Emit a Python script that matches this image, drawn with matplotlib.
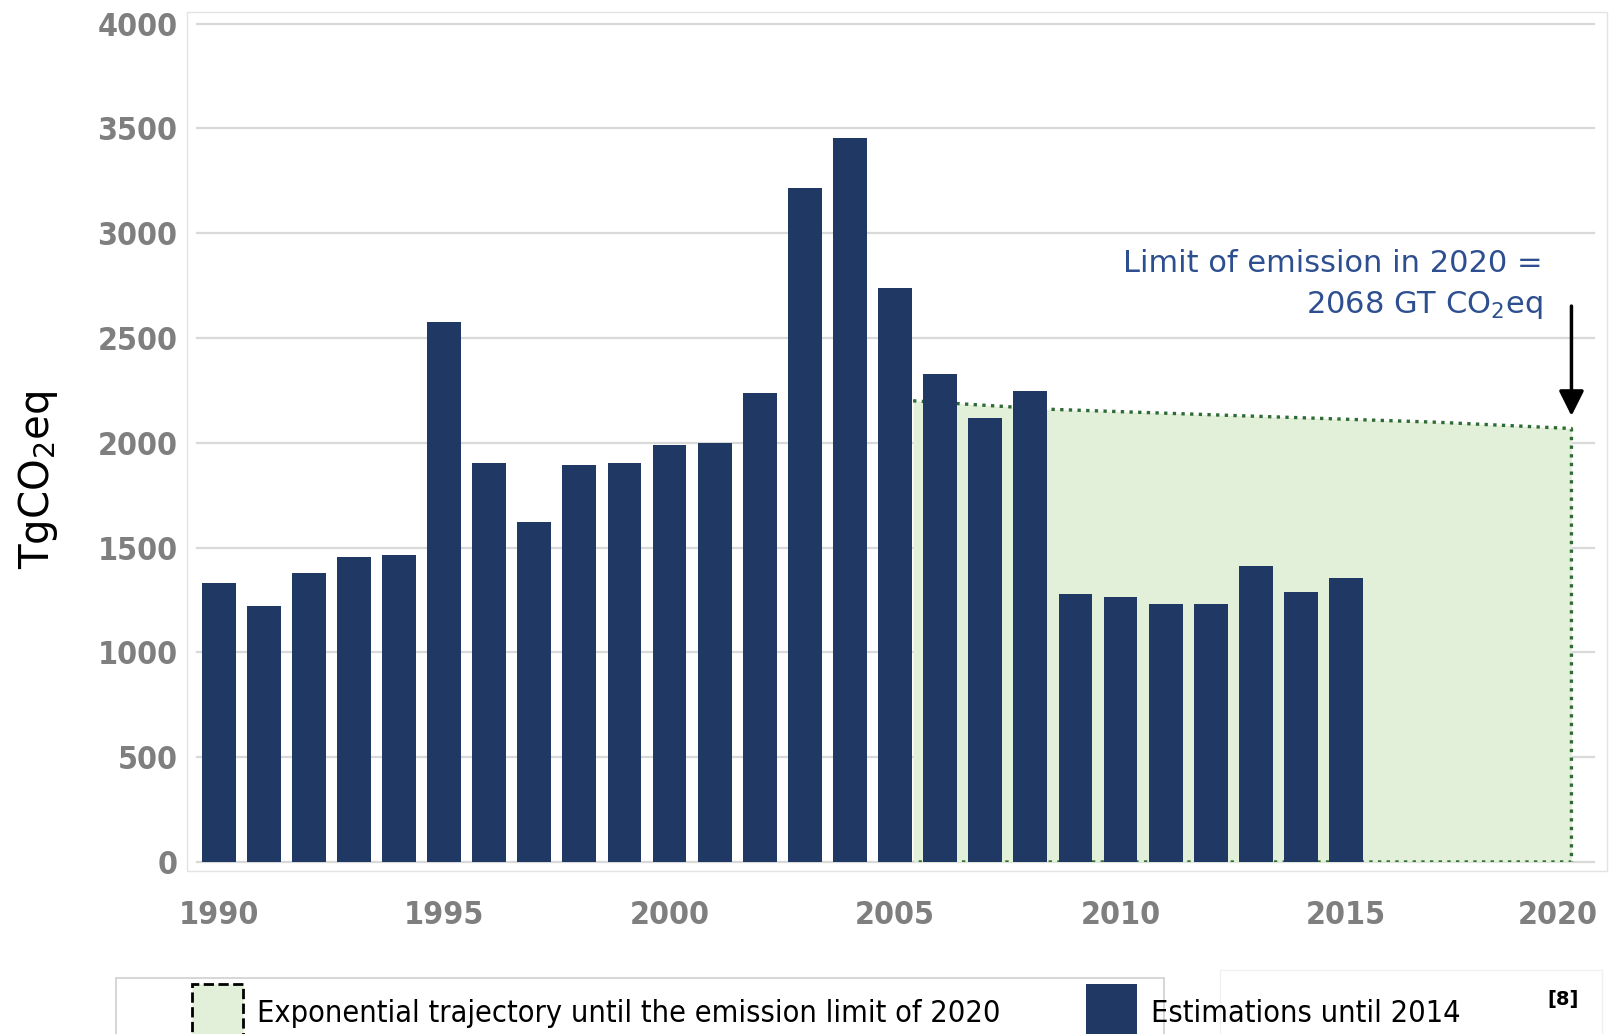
import matplotlib
matplotlib.use('Agg')
import matplotlib.pyplot as plt
import matplotlib.transforms as mtransforms
from matplotlib.patches import Rectangle

# data
years = list(range(1990, 2016))
emissions = [1333, 1221, 1377, 1456, 1466, 2574, 1902, 1623, 1892, 1902,
             1990, 2000, 2235, 3216, 3456, 2740, 2328, 2118, 2245, 1279,
             1265, 1230, 1230, 1412, 1289, 1353]
traj_years = [2005.4, 2008.4, 2012.5, 2017, 2020]
traj_values = [2200, 2160, 2130, 2098, 2068]
limit_year = 2020
limit_value = 2068
ytick_vals = [0, 500, 1000, 1500, 2000, 2500, 3000, 3500, 4000]
xtick_years = [1990, 1995, 2000, 2005, 2010, 2015, 2020]

NAVY = '#203864'
GREEN_FILL = '#e2efd9'
GREEN_LINE = '#2f6b34'
GRAY = '#7f7f7f'
BLUE_TXT = '#2e4f8f'

W, H = 1611, 1034
fig = plt.figure(figsize=(W / 100, H / 100), dpi=100)


def fx(px):
    return px / W


def fy(py):
    return 1 - py / H


# light frame round the plot
fig.patches.append(Rectangle((fx(187), fy(871)), fx(1607) - fx(187), fy(12) - fy(871),
                             transform=fig.transFigure, fill=False,
                             edgecolor='#e3e3e3', lw=1))

ax = fig.add_axes([fx(197), fy(862), fx(1594) - fx(197), fy(23.5) - fy(862)])
ax.set_xlim(1989.52, 2020.5)
ax.set_ylim(0, 4000)
for s in ax.spines.values():
    s.set_visible(False)
ax.patch.set_alpha(0)

ax.set_yticks(ytick_vals)
ax.set_yticklabels([str(v) for v in ytick_vals], fontstretch='condensed',
                   fontweight='bold', fontsize=23, color=GRAY)
ax.set_xticks(xtick_years)
ax.set_xticklabels([str(v) for v in xtick_years], fontstretch='condensed',
                   fontweight='bold', fontsize=23, color=GRAY)
ax.tick_params(axis='y', length=0, pad=14)
ax.tick_params(axis='x', length=0, pad=27)
# last year label sits a little to the left in the reference
last = ax.get_xticklabels()[-1]
last.set_transform(last.get_transform() +
                   mtransforms.ScaledTranslation(-14 / 100, 0, fig.dpi_scale_trans))
ax.yaxis.grid(True, color='#d9d9d9', lw=1.6, clip_on=False)
ax.set_axisbelow(True)

# trajectory area up to the 2020 limit
ax.fill_between(traj_years, traj_values, 0, color=GREEN_FILL, lw=0, zorder=1)
ax.plot(traj_years + [traj_years[-1], traj_years[0]], traj_values + [0, 0],
        linestyle=(0, (1, 1.6)), color=GREEN_LINE, lw=2.4, zorder=2)

# estimations
ax.bar(years, emissions, width=0.75, color=NAVY, zorder=3)

# arrow to the limit
ax.annotate('', xy=(limit_year, limit_value + 60), xytext=(limit_year, 2652),
            arrowprops=dict(arrowstyle='-|>', color='black', lw=2.5,
                            mutation_scale=38, shrinkA=0, shrinkB=0))
fig.text(fx(1543), fy(263), 'Limit of emission in %d =' % limit_year,
         ha='right', va='center', fontsize=22, color=BLUE_TXT)
fig.text(fx(1543), fy(305), '%d GT CO$_2$eq' % limit_value,
         ha='right', va='center', fontsize=22, color=BLUE_TXT)

fig.text(fx(38), fy(480), 'TgCO$_2$eq', rotation=90, ha='center', va='center',
         fontsize=29, color='black')

# legend drawn by hand, cut by the bottom edge like the reference
fig.patches.append(Rectangle((fx(116), fy(1045)), fx(1164) - fx(116), fy(978) - fy(1045),
                             transform=fig.transFigure, fill=False,
                             edgecolor='#d0d0d0', lw=1.2))
fig.patches.append(Rectangle((fx(1220), fy(1045)), fx(1602) - fx(1220), fy(970) - fy(1045),
                             transform=fig.transFigure, fill=False,
                             edgecolor='#f0f0f0', lw=1))
fig.patches.append(Rectangle((fx(192), fy(1036)), fx(243) - fx(192), fy(984) - fy(1036),
                             transform=fig.transFigure, facecolor=GREEN_FILL,
                             edgecolor='black', linestyle='--', lw=2))
fig.patches.append(Rectangle((fx(1086), fy(1036)), fx(1137) - fx(1086), fy(984) - fy(1036),
                             transform=fig.transFigure, facecolor=NAVY, lw=0))
fig.text(fx(257), fy(1014), 'Exponential trajectory until the emission limit of 2020',
         ha='left', va='center', fontsize=22, fontstretch='condensed', color='black')
fig.text(fx(1151), fy(1014), 'Estimations until 2014',
         ha='left', va='center', fontsize=22, fontstretch='condensed', color='black')
fig.text(fx(1563), fy(999), '[8]', ha='center', va='center', fontsize=14,
         fontweight='bold', color='black')

fig.savefig('out.png', dpi=100)
